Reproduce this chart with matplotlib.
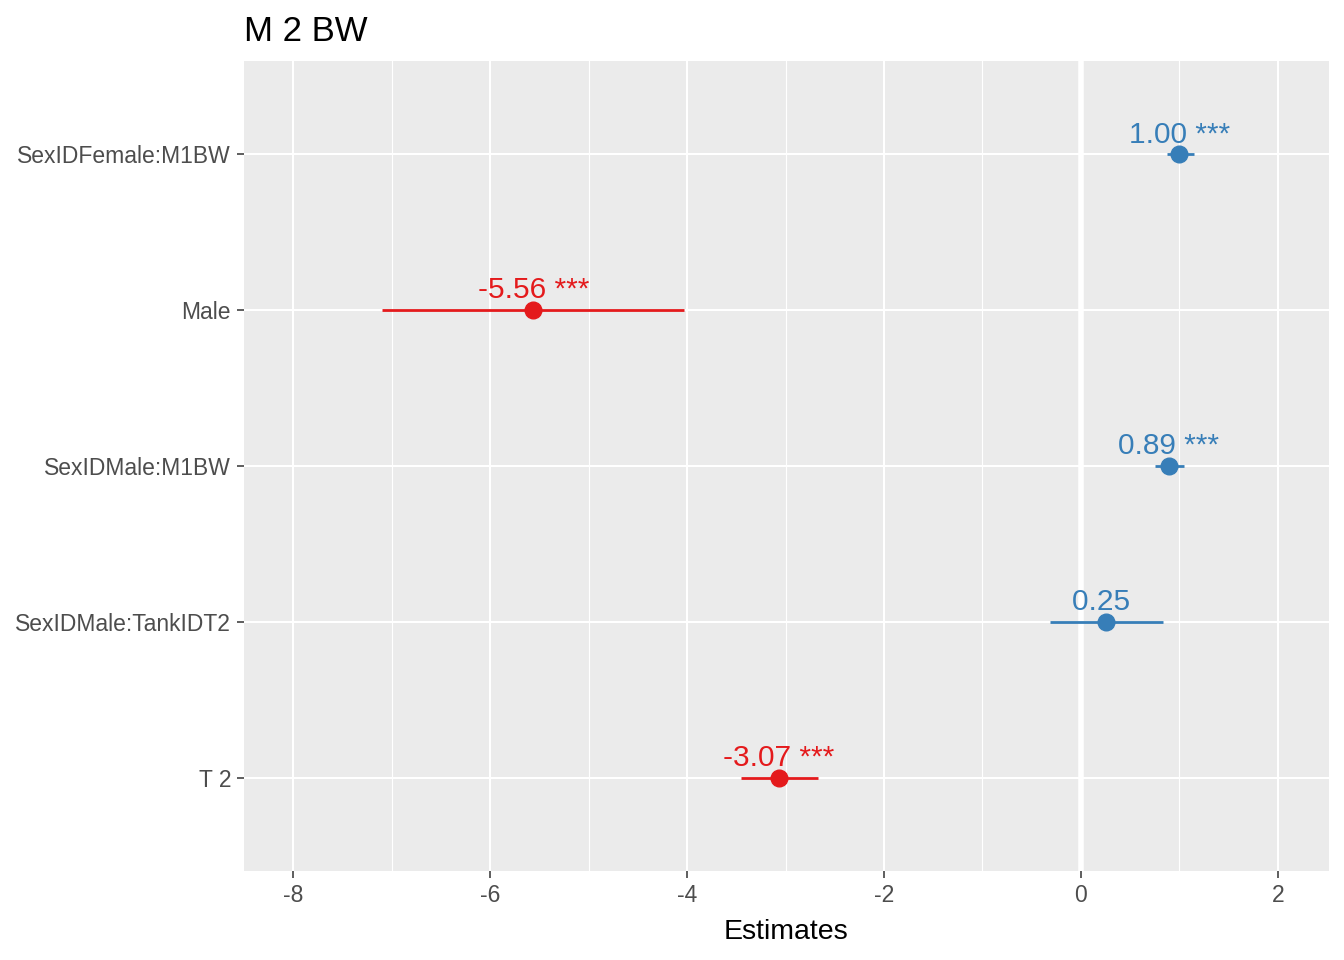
import matplotlib
matplotlib.use("Agg")
import matplotlib.pyplot as plt
import numpy as np

plt.rcParams['font.family'] = ['Liberation Sans', 'DejaVu Sans']

# data (top to bottom)
terms = ["SexIDFemale:M1BW", "Male", "SexIDMale:M1BW", "SexIDMale:TankIDT2", "T 2"]
estimates = [1.00, -5.56, 0.89, 0.25, -3.07]
ci_low = [0.87, -7.10, 0.75, -0.31, -3.45]
ci_high = [1.15, -4.03, 1.05, 0.83, -2.67]
stars = ["***", "***", "***", "", "***"]

blue = "#377EB8"
red = "#E41A1C"

fig = plt.figure(figsize=(13.44, 9.6), dpi=100)
ax = fig.add_axes([244 / 1344, 1 - 871 / 960, (1329 - 244) / 1344, (871 - 61) / 960])
ax.set_facecolor("#EBEBEB")
for s in ax.spines.values():
    s.set_visible(False)

ypos = np.arange(len(terms))[::-1] + 1

ax.set_xlim(-8.5, 2.52)
ax.set_ylim(0.4, 5.6)
ax.set_xticks([-8, -6, -4, -2, 0, 2])
ax.set_xticklabels(["-8", "-6", "-4", "-2", "0", "2"])
ax.set_xticks([-7, -5, -3, -1, 1], minor=True)
ax.set_yticks(ypos)
ax.set_yticklabels(terms)

ax.grid(True, which="major", color="white", linewidth=1.5)
ax.grid(True, which="minor", axis="x", color="white", linewidth=0.8)
ax.set_axisbelow(True)
ax.axvline(0, color="white", linewidth=4, zorder=1)

ax.tick_params(axis="both", which="major", length=5.3, width=1.1, color="#333333",
               labelcolor="#4D4D4D", labelsize=16.5, pad=4)
ax.tick_params(axis="both", which="minor", length=0)

for y, e, lo, hi, st in zip(ypos, estimates, ci_low, ci_high, stars):
    c = blue if e > 0 else red
    ax.plot([lo, hi], [y, y], color=c, linewidth=2, solid_capstyle="butt", zorder=3)
    ax.plot(e, y, "o", color=c, markersize=12, zorder=4)
    label = f"{e:.2f} {st}"
    ax.annotate(label, (e, y), xytext=(0, 8.5), textcoords="offset points",
                ha="center", va="baseline", color=c, fontsize=21.5)

ax.set_xlabel("Estimates", fontsize=20.5, color="black", labelpad=9)
ax.set_title("M 2 BW", loc="left", fontsize=25, color="black", pad=14.5)

fig.savefig("out.png", dpi=100)
